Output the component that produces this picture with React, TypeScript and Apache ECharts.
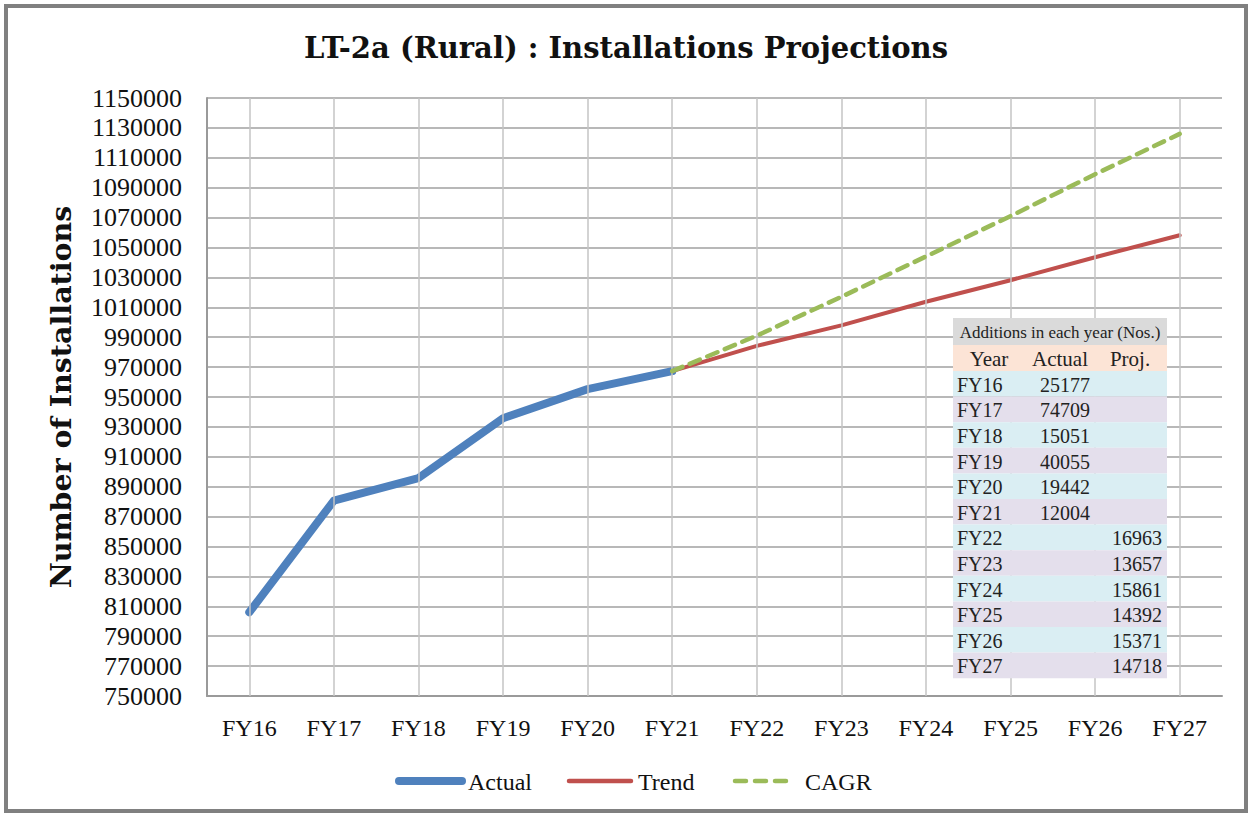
import React, { useEffect, useRef } from "react";
import * as echarts from "echarts";

const categories = ["FY16", "FY17", "FY18", "FY19", "FY20", "FY21", "FY22", "FY23", "FY24", "FY25", "FY26", "FY27"];
const actualValues = [806000, 880709, 895760, 935815, 955257, 967261, null, null, null, null, null, null];
const trendValues = [null, null, null, null, null, 967261, 984224, 997881, 1013742, 1028134, 1043505, 1058223];
const cagrValues = [null, null, null, null, null, 967261, 991000, 1017000, 1044000, 1071000, 1099000, 1126000];

const seriesNames = ["Actual", "Trend", "CAGR"];
const seriesColors = ["#4F81BD", "#C0504D", "#9BBB59"];

const tableTitle = "Additions in each year (Nos.)";
const tableHeaders = ["Year", "Actual", "Proj."];
const tableActual = [25177, 74709, 15051, 40055, 19442, 12004, null, null, null, null, null, null];
const tableProj = [null, null, null, null, null, null, 16963, 13657, 15861, 14392, 15371, 14718];

const FONT = "'Liberation Serif', 'Times New Roman', serif";
const BOLD_FONT = "'DejaVu Serif', 'Liberation Serif', serif";

function buildTable(): any[] {
  const x0 = 953;
  const w = 214;
  const y0 = 318;
  const titleH = 27;
  const headH = 26;
  const rowH = 25.6;
  const els: any[] = [];
  els.push({ type: "rect", shape: { x: x0, y: y0, width: w, height: titleH }, style: { fill: "#DADADA" }, z: 10 });
  els.push({
    type: "text", x: x0 + w / 2, y: y0 + titleH / 2 + 1, z: 11,
    style: { text: tableTitle, font: `17px ${FONT}`, fill: "#222", align: "center", verticalAlign: "middle" },
  });
  const hy = y0 + titleH;
  els.push({ type: "rect", shape: { x: x0, y: hy, width: w, height: headH }, style: { fill: "#FCE4D6" }, z: 10 });
  const headX = [989, 1060, 1130];
  tableHeaders.forEach((h, i) => {
    els.push({
      type: "text", x: headX[i], y: hy + headH / 2 + 1, z: 11,
      style: { text: h, font: `21px ${FONT}`, fill: "#222", align: "center", verticalAlign: "middle" },
    });
  });
  const ry0 = hy + headH;
  categories.forEach((c, i) => {
    const y = ry0 + i * rowH;
    els.push({ type: "rect", shape: { x: x0, y, width: w, height: rowH }, style: { fill: i % 2 === 0 ? "#DAEEF3" : "#E4DFEC" }, z: 10 });
    els.push({
      type: "text", x: 957, y: y + rowH / 2 + 1, z: 11,
      style: { text: c, font: `20px ${FONT}`, fill: "#222", align: "left", verticalAlign: "middle" },
    });
    if (tableActual[i] != null) {
      els.push({
        type: "text", x: 1090, y: y + rowH / 2 + 1, z: 11,
        style: { text: String(tableActual[i]), font: `20px ${FONT}`, fill: "#222", align: "right", verticalAlign: "middle" },
      });
    }
    if (tableProj[i] != null) {
      els.push({
        type: "text", x: 1162, y: y + rowH / 2 + 1, z: 11,
        style: { text: String(tableProj[i]), font: `20px ${FONT}`, fill: "#222", align: "right", verticalAlign: "middle" },
      });
    }
  });
  return els;
}

function buildLegend(): any[] {
  const y = 781;
  const els: any[] = [];
  els.push({ type: "line", shape: { x1: 399, y1: y, x2: 462, y2: y }, style: { stroke: seriesColors[0], lineWidth: 8, lineCap: "round" }, z: 12 });
  els.push({ type: "text", x: 468, y: y + 1, style: { text: seriesNames[0], font: `24px ${FONT}`, fill: "#111", verticalAlign: "middle" }, z: 12 });
  els.push({ type: "line", shape: { x1: 569, y1: y, x2: 631, y2: y }, style: { stroke: seriesColors[1], lineWidth: 4.5, lineCap: "round" }, z: 12 });
  els.push({ type: "text", x: 638, y: y + 1, style: { text: seriesNames[1], font: `24px ${FONT}`, fill: "#111", verticalAlign: "middle" }, z: 12 });
  els.push({ type: "line", shape: { x1: 735, y1: y, x2: 794, y2: y }, style: { stroke: seriesColors[2], lineWidth: 4.5, lineCap: "round", lineDash: [11, 9] }, z: 12 });
  els.push({ type: "text", x: 805, y: y + 1, style: { text: seriesNames[2], font: `24px ${FONT}`, fill: "#111", verticalAlign: "middle" }, z: 12 });
  return els;
}

export default function App() {
  const ref = useRef<HTMLDivElement>(null);
  useEffect(() => {
    if (!ref.current) return;
    const chart = echarts.init(ref.current, null, { renderer: "svg" });
    const option: any = {
      animation: false,
      backgroundColor: "#ffffff",
      textStyle: { fontFamily: FONT },
      title: {
        text: "LT-2a (Rural) : Installations Projections",
        left: "center",
        top: 28,
        textStyle: { fontFamily: BOLD_FONT, fontWeight: "bold", fontSize: 29, color: "#111" },
      },
      grid: { left: 207, right: 30, top: 98, bottom: 118, containLabel: false },
      legend: { show: false, data: seriesNames },
      xAxis: {
        type: "category",
        data: categories,
        boundaryGap: true,
        axisLine: { show: true, lineStyle: { color: "#9A9A9A", width: 2 } },
        axisTick: { show: false },
        axisLabel: { fontFamily: FONT, fontSize: 24, color: "#111", margin: 20 },
        splitLine: { show: false },
      },
      yAxis: {
        type: "value",
        min: 750000,
        max: 1150000,
        interval: 20000,
        name: "Number of Installations",
        nameLocation: "middle",
        nameGap: 132,
        nameTextStyle: { fontFamily: BOLD_FONT, fontWeight: "bold", fontSize: 28.5, color: "#111" },
        axisLine: { show: true, lineStyle: { color: "#9A9A9A", width: 2 } },
        axisTick: { show: false },
        axisLabel: { fontFamily: FONT, fontSize: 26, color: "#111", margin: 25, formatter: (v: number) => String(v) },
        splitLine: { show: true, lineStyle: { color: "#A0A0A0", width: 1.5 } },
      },
      graphic: [
        {
          type: "rect",
          shape: { x: 6, y: 6, width: 1240, height: 805 },
          style: { fill: "none", stroke: "#808080", lineWidth: 4 },
          z: 20,
        },
        ...buildTable(),
        ...buildLegend(),
      ],
      series: [
        {
          name: "grid-v",
          type: "line",
          data: categories.map(() => null),
          z: 1,
          silent: true,
          markLine: {
            silent: true,
            symbol: "none",
            label: { show: false },
            lineStyle: { color: "#C4C4C4", width: 1.5, type: "solid" },
            data: categories.map((c) => ({ xAxis: c })),
          },
        },
        {
          name: seriesNames[0],
          type: "line",
          data: actualValues,
          symbol: "none",
          z: 3,
          lineStyle: { color: seriesColors[0], width: 8, cap: "round", join: "round" },
          itemStyle: { color: seriesColors[0] },
        },
        {
          name: seriesNames[1],
          type: "line",
          data: trendValues,
          symbol: "none",
          z: 4,
          lineStyle: { color: seriesColors[1], width: 4, cap: "round", join: "round" },
          itemStyle: { color: seriesColors[1] },
        },
        {
          name: seriesNames[2],
          type: "line",
          data: cagrValues,
          symbol: "none",
          z: 5,
          lineStyle: { color: seriesColors[2], width: 4.5, type: [11, 8], cap: "round" },
          itemStyle: { color: seriesColors[2] },
        },
      ],
    };
    chart.setOption(option);
    return () => chart.dispose();
  }, []);
  return (
    <div
      ref={ref}
      style={{ position: "fixed", left: 0, top: 0, width: 1252, height: 814 }}
    />
  );
}
